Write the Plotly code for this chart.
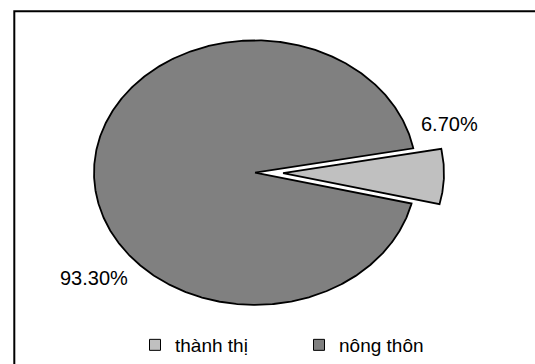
import numpy as np
import plotly.graph_objects as go

# Population share by area
categories = ["thành thị", "nông thôn"]
shares = [6.70, 93.30]
colors = ["#C0C0C0", "#808080"]
pulls = [0.174, 0.0]

W, H = 535, 364
CX, CY = 255, 177.5      # pie centre (px)
RX, RY = 161, 136        # ellipse radii (px)
START_DEG = 10.6         # first slice starts here and runs clockwise

fig = go.Figure()

total = sum(shares)
angle = np.radians(START_DEG)
for name, val, col, pull in zip(categories, shares, colors, pulls):
    sweep = 2 * np.pi * val / total
    a0, a1 = angle, angle - sweep
    mid = (a0 + a1) / 2
    ox = CX + RX * pull * np.cos(mid)
    oy = CY - RY * pull * np.sin(mid)
    t = np.linspace(a0, a1, max(int(abs(sweep) * 120), 8))
    xs = np.concatenate([[ox], ox + RX * np.cos(t), [ox]])
    ys = np.concatenate([[oy], oy - RY * np.sin(t), [oy]])
    fig.add_trace(go.Scatter(
        x=xs, y=ys, mode="lines", fill="toself", fillcolor=col,
        line=dict(color="black", width=1.8), hoverinfo="skip", showlegend=False,
    ))
    angle = a1

# legend entries (square swatches)
for i, (name, col) in enumerate(zip(categories, colors)):
    fig.add_trace(go.Scatter(
        x=[None], y=[None], mode="markers", name=name,
        marker=dict(symbol="square", size=11, color=col, line=dict(color="black", width=1)),
        legend="legend" if i == 0 else "legend2",
    ))

# percentage labels
label_pos = [(449, 127), (94, 285.5)]
for val, (lx, ly) in zip(shares, label_pos):
    fig.add_annotation(x=lx, y=ly, xref="x", yref="y", text=f"{val:.2f}%",
                       showarrow=False, font=dict(size=20, color="black"),
                       xanchor="center", yanchor="middle")

legend_style = dict(orientation="h", xanchor="left", yanchor="middle",
                    y=1 - 355 / H, font=dict(size=19, color="black"),
                    bgcolor="rgba(0,0,0,0)", itemwidth=30, borderwidth=0)

fig.update_layout(
    width=W, height=H,
    margin=dict(l=0, r=0, t=0, b=0),
    paper_bgcolor="white", plot_bgcolor="white",
    font=dict(family="Liberation Sans, Arial, sans-serif", color="black"),
    xaxis=dict(range=[0, W], visible=False, fixedrange=True),
    yaxis=dict(range=[H, 0], visible=False, fixedrange=True),
    legend=dict(x=135 / W, **legend_style),
    legend2=dict(x=299 / W, **legend_style),
    shapes=[dict(type="rect", xref="paper", yref="paper",
                 x0=14.3 / W, x1=1.05, y0=-0.05, y1=1 - 11.5 / H,
                 line=dict(color="black", width=2))],
)

fig.write_html("out.html")
